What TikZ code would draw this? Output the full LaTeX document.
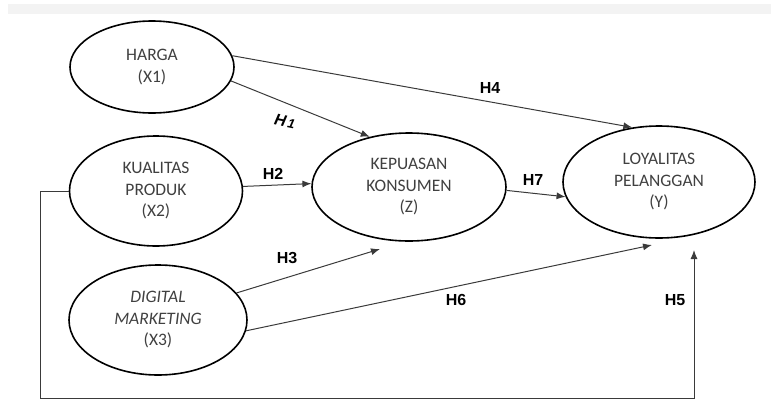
\documentclass[tikz,border=0pt]{standalone}
\usepackage{fontspec}
\setmainfont{Carlito}
\newfontfamily\labelfont{Liberation Sans}
\usetikzlibrary{shapes.geometric,arrows.meta}
\definecolor{vartext}{HTML}{404040}
\definecolor{pathline}{HTML}{3A3A3A}
\definecolor{band}{HTML}{F3F3F3}
\begin{document}
\begin{tikzpicture}[x=1pt,y=-1pt,
  var/.style={ellipse,draw=black,line width=1.6pt,inner sep=0pt,text=vartext,align=center,
    font=\fontsize{17.5}{21.5}\selectfont},
  path/.style={draw=pathline,line width=1pt,-{Latex[length=9pt,width=7pt]}},
  hyp/.style={font=\labelfont\bfseries\fontsize{16}{16}\selectfont}]
  \useasboundingbox (0,0) rectangle (771,407);
  \fill [band] (8,4) rectangle (771,14); %pita atas

  % variabel
  \node [var,minimum width=164pt,minimum height=92pt]  (harga) at (152,67)  {HARGA\\(X1)};
  \node [var,minimum width=173pt,minimum height=110pt] (kual)  at (156,191) {KUALITAS\\PRODUK\\(X2)};
  \node [var,minimum width=178pt,minimum height=110pt] (dig)   at (158,320) {\textit{DIGITAL}\\\textit{MARKETING}\\(X3)};
  \node [var,minimum width=194pt,minimum height=108pt] (kep)   at (409,187) {KEPUASAN\\KONSUMEN\\(Z)};
  \node [var,minimum width=192pt,minimum height=112pt] (loy)   at (659,182) {LOYALITAS\\PELANGGAN\\(Y)};

  \coordinate (kepS)   at (380,249);
  \coordinate (loyS)   at (652,245);
  \coordinate (loyH5)  at (694,250);
  \coordinate (corner) at (40,398);

  % hipotesis
  \draw [path] (harga.8)  -- (loy.116);
  \draw [path] (harga.-10) -- (kep.128);
  \draw [path] (kual.3)   -- (kep.178);
  \draw [path] (dig.19)   -- (kepS);
  \draw [path] (dig.-7)   -- (loyS);
  \draw [path] (kep.-2)   -- (loy.189);
  \draw [path] (kual.west) -| (corner) -| (loyH5); %H5

  \node [hyp,rotate=-12] (h1) at (285,121) {\itshape H\kern2pt{\fontsize{13}{13}\selectfont 1}};
  \node [hyp] (h2) at (273,174) {H2};
  \node [hyp] (h3) at (287,258) {H3};
  \node [hyp] (h4) at (490,88)  {H4};
  \node [hyp] (h5) at (675,300) {H5};
  \node [hyp] (h6) at (456,300) {H6};
  \node [hyp] (h7) at (533,180) {H7};
\end{tikzpicture}
\end{document}
